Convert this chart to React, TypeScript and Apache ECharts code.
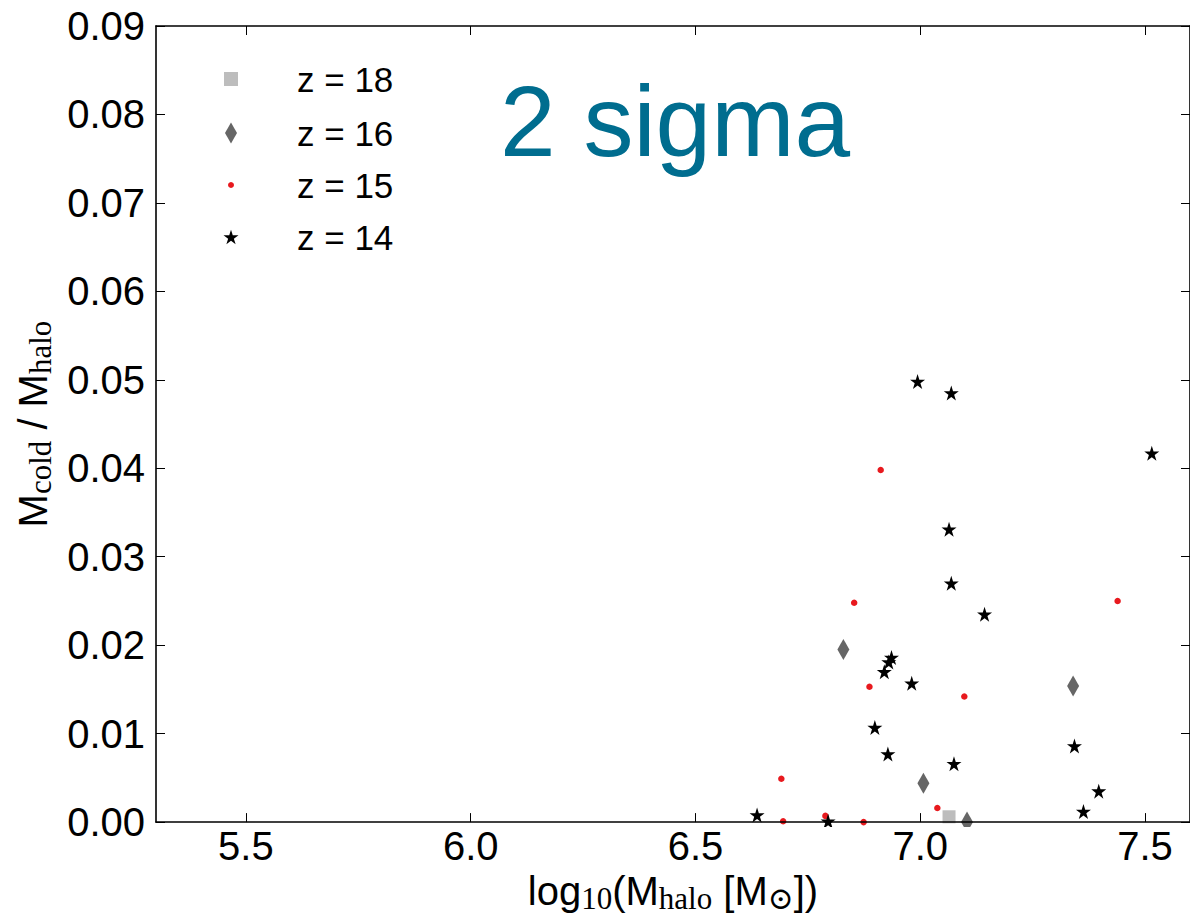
import React, { useEffect, useRef } from "react";
import * as echarts from "echarts";

// ---- data ----
const z18: number[][] = [[7.064, 0.0006]];
const z16: number[][] = [
  [6.829, 0.0195],
  [7.34, 0.0154],
  [7.007, 0.0044],
  [7.104, 0.0],
];
const z15: number[][] = [
  [6.912, 0.0398],
  [6.853, 0.0248],
  [7.439, 0.025],
  [6.887, 0.0153],
  [7.098, 0.0142],
  [6.691, 0.0049],
  [7.038, 0.0016],
  [6.789, 0.0007],
  [6.695, 0.0001],
  [6.874, 0.0],
];
const z14: number[][] = [
  [6.994, 0.0498],
  [7.069, 0.0485],
  [7.515, 0.0417],
  [7.064, 0.0331],
  [7.069, 0.027],
  [7.143, 0.0235],
  [6.936, 0.0186],
  [6.93, 0.0181],
  [6.92, 0.017],
  [6.981, 0.0157],
  [6.899, 0.0107],
  [6.928, 0.0077],
  [7.075, 0.0066],
  [7.343, 0.0086],
  [7.397, 0.0035],
  [7.363, 0.0012],
  [6.637, 0.0008],
  [6.795, 0.0001],
];
const seriesNames = ["z = 18", "z = 16", "z = 15", "z = 14"];
const xTicks = [5.5, 6.0, 6.5, 7.0, 7.5];
const xRange = [5.3, 7.6];
const yRange = [0, 0.09];
const yStep = 0.01;
const titleText = "2 sigma";

const STAR =
  "path://M50,0 L61.2,34.5 L97.6,34.5 L68.2,55.9 L79.4,90.5 L50,69.1 L20.6,90.5 L31.8,55.9 L2.4,34.5 L38.8,34.5 Z";

const SANS = "'Liberation Sans', Arial, Helvetica, sans-serif";
const SERIF = "'Liberation Serif', 'DejaVu Serif', serif";

export default function App() {
  const ref = useRef<HTMLDivElement>(null);
  useEffect(() => {
    if (!ref.current) return;
    const chart = echarts.init(ref.current, null, { renderer: "svg" });

    const nameRich = {
      m: { fontFamily: SANS, fontSize: 40, lineHeight: 46, color: "#000" },
      s: {
        fontFamily: SERIF,
        fontSize: 31,
        lineHeight: 20,
        verticalAlign: "bottom",
        color: "#000",
      },
    };

    const legendRows = [
      { name: seriesNames[0], icon: "rect", w: 14, h: 14, cy: 79 },
      { name: seriesNames[1], icon: "diamond", w: 12, h: 21, cy: 133 },
      { name: seriesNames[2], icon: "circle", w: 6, h: 6, cy: 185 },
      { name: seriesNames[3], icon: STAR, w: 15, h: 15, cy: 237 },
    ];

    const legends = legendRows.map((r) => ({
      show: true,
      data: [{ name: r.name, icon: r.icon }],
      left: 231 - r.w / 2,
      top: r.cy - 20,
      padding: 0,
      itemWidth: r.w,
      itemHeight: r.h,
      selectedMode: false,
      textStyle: {
        fontFamily: SANS,
        fontSize: 35,
        lineHeight: 40,
        color: "#000",
        padding: [0, 0, 0, 61 - r.w / 2],
      },
    }));

    chart.setOption({
      animation: false,
      backgroundColor: "#fff",
      title: {
        text: titleText,
        left: 500,
        top: 71,
        padding: 0,
        textStyle: {
          fontFamily: SANS,
          fontSize: 100,
          lineHeight: 100,
          fontWeight: "normal",
          color: "#006d8f",
        },
      },
      legend: legends,
      grid: { left: 156, top: 26, right: 0, height: 800, containLabel: false },
      xAxis: [
        {
          type: "value",
          min: xRange[0],
          max: xRange[1],
          position: "bottom",
          z: 4,
          name: "{m|log}{s|10}{m|(M}{s|halo}{m| [M}{s|⊙}{m|])}",
          nameLocation: "middle",
          nameGap: 45,
          nameTextStyle: { rich: nameRich },
          axisLine: { show: true, onZero: false, lineStyle: { color: "#000", width: 1.6 } },
          axisTick: {
            show: true,
            inside: true,
            length: 9,
            customValues: xTicks,
            lineStyle: { color: "#000", width: 1 },
          },
          axisLabel: {
            show: true,
            customValues: xTicks,
            margin: 4,
            fontFamily: SANS,
            fontSize: 40,
            color: "#000",
            formatter: (v: number) => v.toFixed(1),
          },
          splitLine: { show: false },
        },
        {
          type: "value",
          min: xRange[0],
          max: xRange[1],
          position: "top",
          z: 4,
          axisLine: { show: true, onZero: false, lineStyle: { color: "#000", width: 1.6 } },
          axisTick: {
            show: true,
            inside: true,
            length: 9,
            customValues: xTicks,
            lineStyle: { color: "#000", width: 1 },
          },
          axisLabel: { show: false },
          splitLine: { show: false },
        },
      ],
      yAxis: [
        {
          type: "value",
          min: yRange[0],
          max: yRange[1],
          interval: yStep,
          position: "left",
          z: 4,
          name: "{m|M}{s|cold}{m| / M}{s|halo}",
          nameLocation: "middle",
          nameRotate: 90,
          nameGap: 96,
          nameTextStyle: { rich: nameRich },
          axisLine: { show: true, onZero: false, lineStyle: { color: "#000", width: 1.6 } },
          axisTick: { show: true, inside: true, length: 9, lineStyle: { color: "#000", width: 1 } },
          axisLabel: {
            show: true,
            margin: 11,
            fontFamily: SANS,
            fontSize: 40,
            color: "#000",
            formatter: (v: number) => v.toFixed(2),
          },
          splitLine: { show: false },
        },
        {
          type: "value",
          min: yRange[0],
          max: yRange[1],
          interval: yStep,
          position: "right",
          z: 4,
          axisLine: { show: true, onZero: false, lineStyle: { color: "#000", width: 1.6 } },
          axisTick: { show: true, inside: true, length: 9, lineStyle: { color: "#000", width: 1 } },
          axisLabel: { show: false },
          splitLine: { show: false },
        },
      ],
      graphic: [
        {
          type: "rect",
          z: 3,
          silent: true,
          shape: { x: 156, y: 827, width: 1034, height: 7 },
          style: { fill: "#fff" },
        },
      ],
      series: [
        {
          name: seriesNames[0],
          type: "scatter",
          data: z18,
          symbol: "rect",
          symbolSize: 13,
          itemStyle: { color: "#bdbdbd", opacity: 1 },
          clip: false,
        },
        {
          name: seriesNames[1],
          type: "scatter",
          data: z16,
          symbol: "diamond",
          symbolSize: [12, 21],
          itemStyle: { color: "#666666", opacity: 1 },
          clip: false,
        },
        {
          name: seriesNames[2],
          type: "scatter",
          data: z15,
          symbol: "circle",
          symbolSize: 6.5,
          itemStyle: { color: "#e8191e", opacity: 1 },
          clip: false,
        },
        {
          name: seriesNames[3],
          type: "scatter",
          data: z14,
          symbol: STAR,
          symbolSize: 15,
          itemStyle: { color: "#000", opacity: 1 },
          clip: false,
        },
      ],
    });
    return () => chart.dispose();
  }, []);

  return (
    <div
      ref={ref}
      style={{ position: "absolute", left: 0, top: 0, width: 1190, height: 919, background: "#fff" }}
    />
  );
}
